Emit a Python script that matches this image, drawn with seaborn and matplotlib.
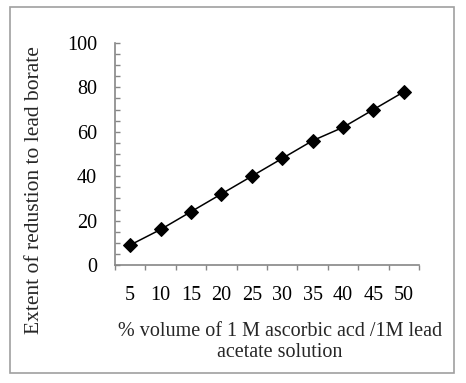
import matplotlib
matplotlib.use("Agg")
import matplotlib.pyplot as plt
import seaborn as sns
import numpy as np
import pandas as pd
from matplotlib.ticker import MultipleLocator, FixedLocator
from matplotlib.patches import Rectangle

volume_pct = [5, 10, 15, 20, 25, 30, 35, 40, 45, 50]
extent = [9, 16, 24, 32, 40, 48, 56, 62, 70, 78]
y_ticks = [0, 20, 40, 60, 80, 100]

sns.set_style("white")
plt.rcParams['font.family'] = ['Liberation Serif', 'DejaVu Serif']

df = pd.DataFrame({"volume": volume_pct, "extent": extent})

fig = plt.figure(figsize=(4.66, 3.83), dpi=100)
W, H = 466, 383
ax = fig.add_axes([115 / W, 1 - 265 / H, (419 - 115) / W, (265 - 43) / H])

sns.lineplot(data=df, x="volume", y="extent", ax=ax, color="black",
             marker="D", markersize=7, markeredgecolor="black", linewidth=1.1)

ax.set_xlim(2.5, 52.5)
ax.set_ylim(0, 100)
ax.xaxis.set_major_locator(FixedLocator(volume_pct))
ax.xaxis.set_minor_locator(FixedLocator([v - 2.5 for v in volume_pct] + [volume_pct[-1] + 2.5]))
ax.set_xticklabels([str(v) for v in volume_pct])
ax.yaxis.set_major_locator(FixedLocator(y_ticks))
ax.set_yticklabels([str(v) for v in y_ticks])
ax.yaxis.set_minor_locator(MultipleLocator(5))

fs = 14.5
gray = "#868686"
ax.tick_params(axis="x", which="major", length=0, pad=15, labelsize=fs, colors="black")
ax.tick_params(axis="x", which="minor", length=3.5, width=1, color=gray, direction="out", bottom=True)
ax.tick_params(axis="y", which="both", direction="in", length=3.5, width=1, color=gray, left=True)
ax.tick_params(axis="y", which="major", pad=13, labelsize=fs, labelcolor="black")

for s in ["top", "right"]:
    ax.spines[s].set_visible(False)
for s in ["left", "bottom"]:
    ax.spines[s].set_color(gray)
    ax.spines[s].set_linewidth(1.2)

ax.set_xlabel("")
ax.set_ylabel("")

fig.text(35 / W, 1 - 190 / H, "Extent of redustion to lead borate", rotation=90,
         ha="center", va="center", fontsize=15.5)
fig.text(280 / W, 1 - 342 / H, "% volume of 1 M ascorbic acd /1M lead\nacetate solution",
         ha="center", va="center", fontsize=fs, linespacing=1.12)

fig.patches.append(Rectangle((10 / W, 1 - 373 / H), (454 - 10) / W, (373 - 7) / H,
                             transform=fig.transFigure, fill=False,
                             edgecolor="#a0a0a0", linewidth=1.2))

fig.savefig("out.png", dpi=100)
